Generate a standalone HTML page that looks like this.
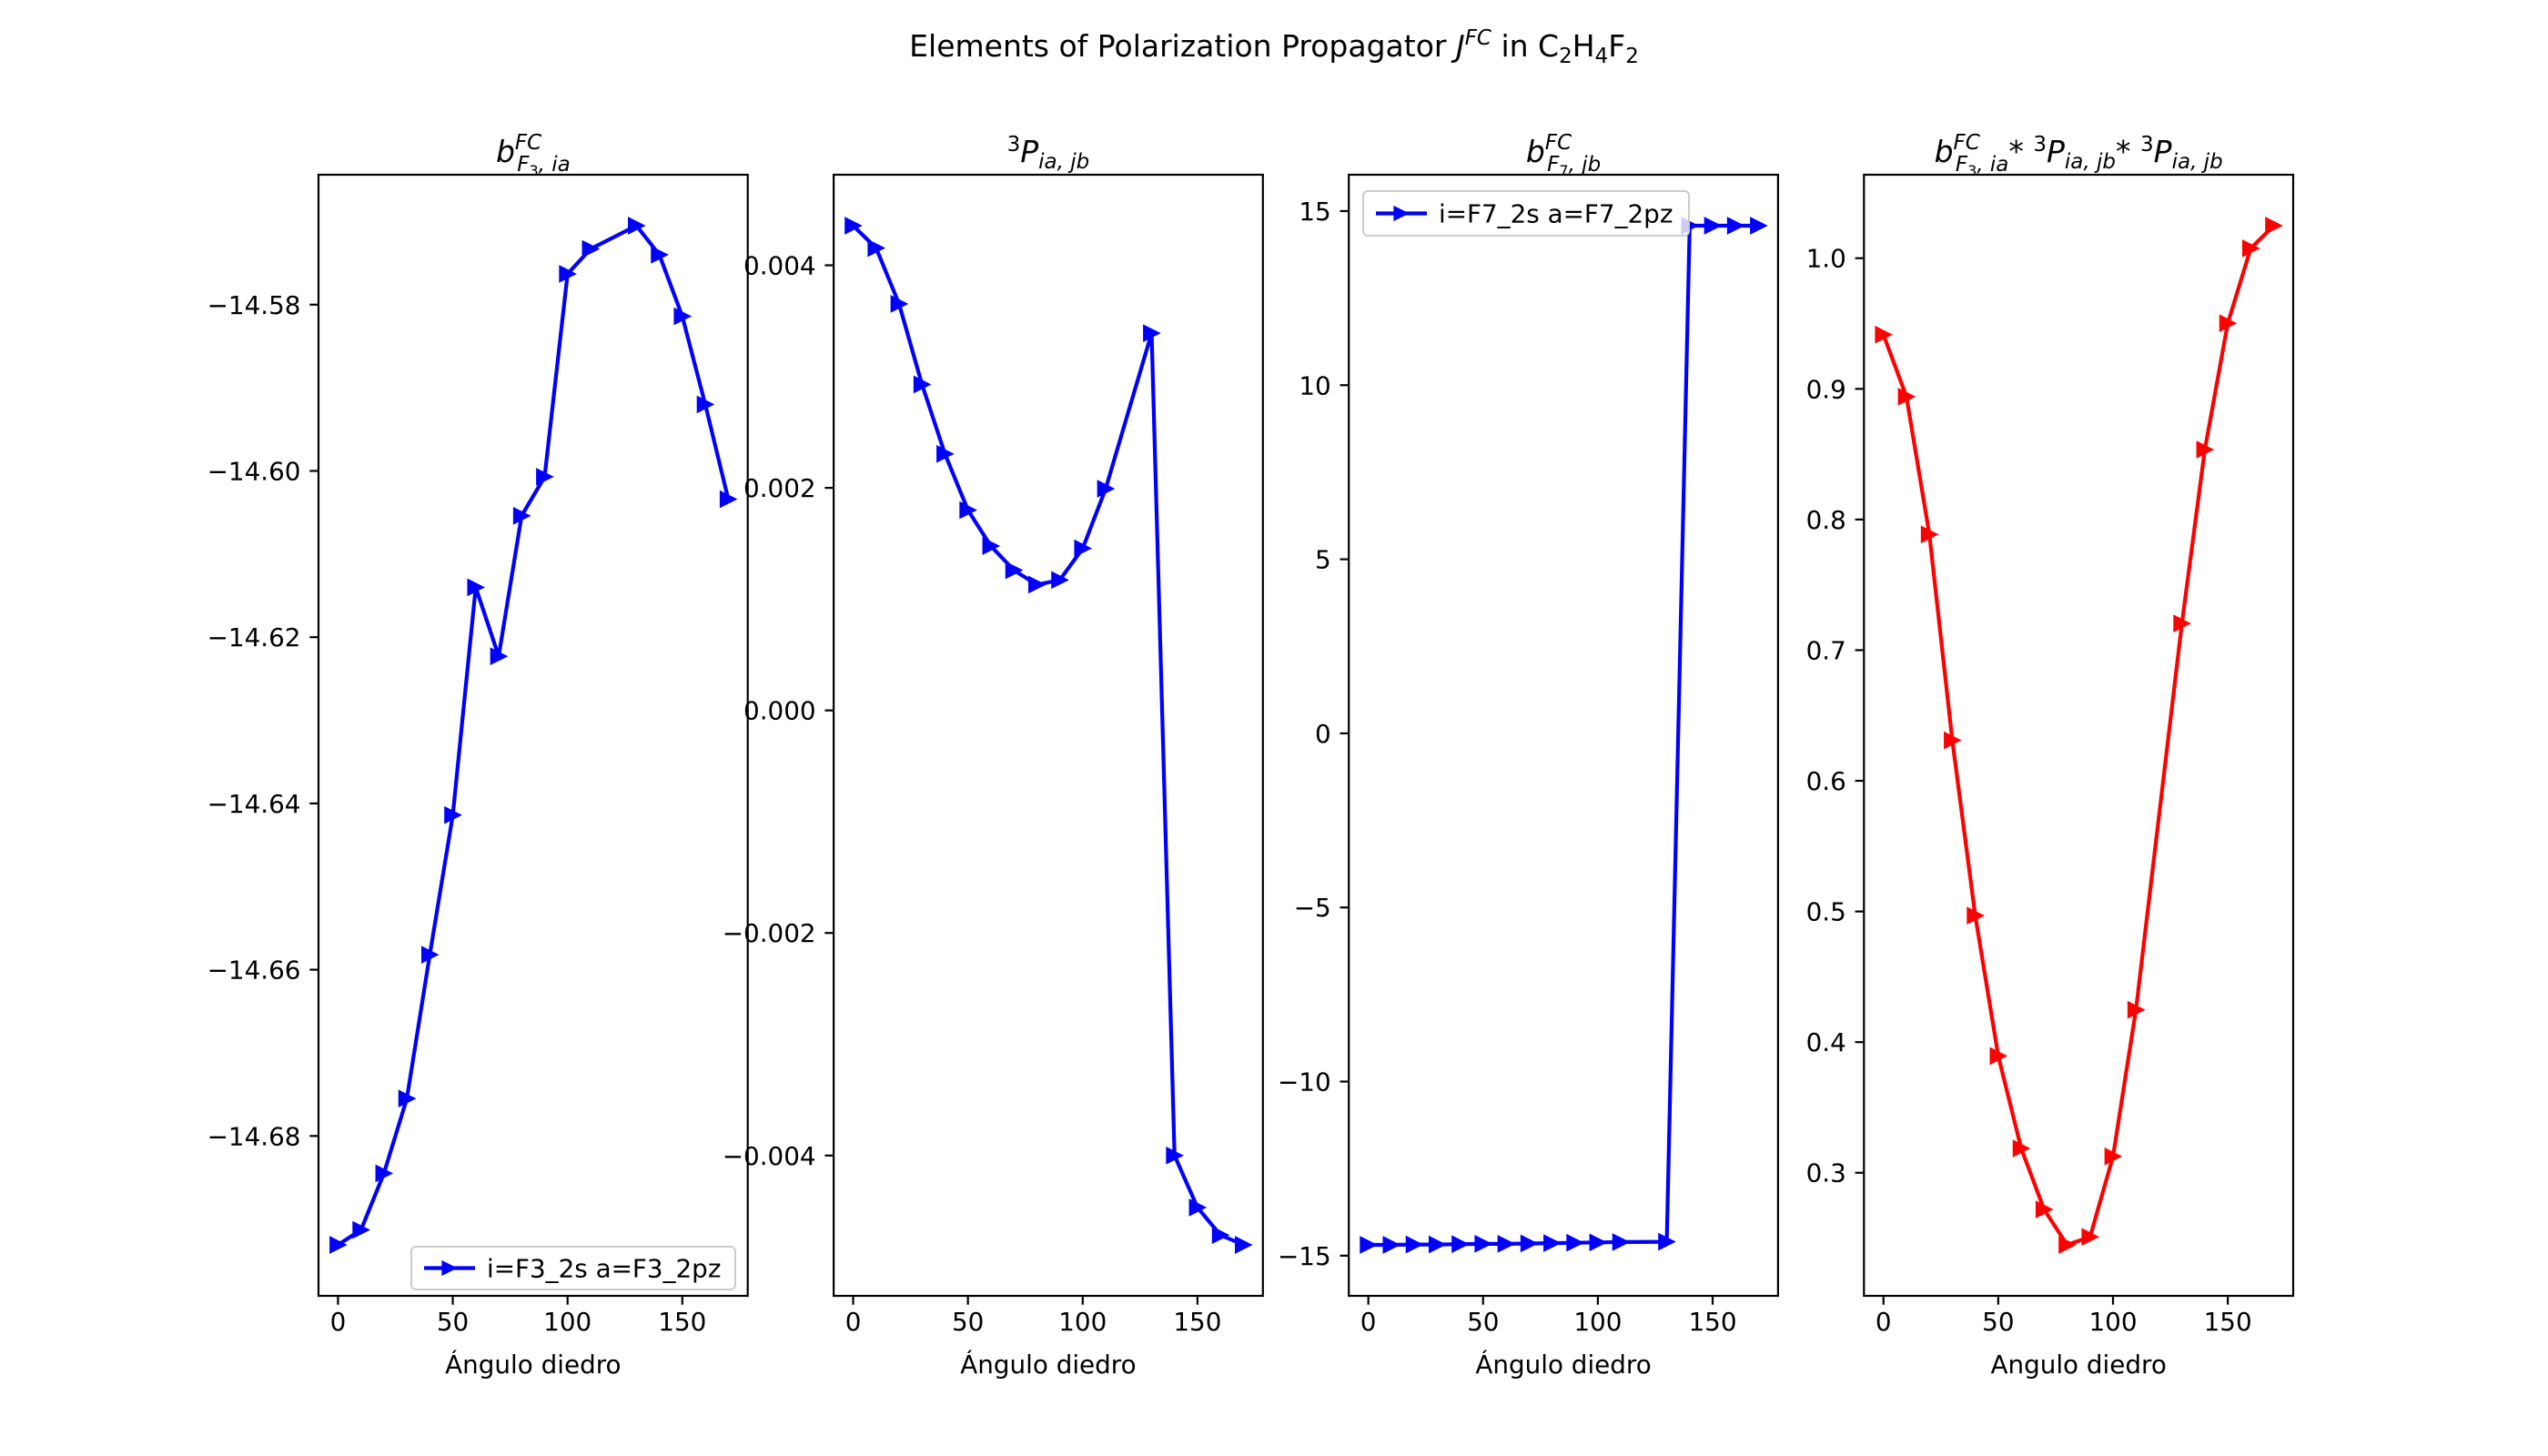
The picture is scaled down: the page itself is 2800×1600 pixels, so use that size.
<!DOCTYPE html>
<html><head><meta charset="utf-8">
<style>
html,body{margin:0;padding:0;background:#fff;}
svg{display:block;font-family:"DejaVu Sans","Liberation Sans",sans-serif;}
</style></head>
<body>
<svg id="fig" width="2800" height="1600" viewBox="0 0 2800 1600" xmlns="http://www.w3.org/2000/svg">
<rect width="2800" height="1600" fill="#fff"/>
<text x="1400" y="62" font-size="33" text-anchor="middle">Elements of Polarization Propagator <tspan font-style="italic">J</tspan><tspan font-style="italic" font-size="23" dy="-13">FC</tspan><tspan dy="13"> in C</tspan><tspan font-size="23" dy="7">2</tspan><tspan dy="-7">H</tspan><tspan font-size="23" dy="7">4</tspan><tspan dy="-7">F</tspan><tspan font-size="23" dy="7">2</tspan></text>
</svg>
<script>
const angles = [0,10,20,30,40,50,60,70,80,90,100,110,130,140,150,160,170];
const bF3 = [-14.6931,-14.6913,-14.6845,-14.6755,-14.6582,-14.6414,-14.6140,-14.6223,-14.6054,-14.6007,-14.5763,-14.5733,-14.5705,-14.5740,-14.5814,-14.5920,-14.6034];
const P3 = [0.004356,0.004155,0.003653,0.002929,0.002305,0.0018,0.001477,0.00126,0.00113,0.001172,0.001456,0.001992,0.00339,-0.0040,-0.004467,-0.004715,-0.004803];
const bF7 = [-14.69,-14.69,-14.68,-14.68,-14.67,-14.66,-14.66,-14.65,-14.64,-14.63,-14.62,-14.61,-14.60,14.58,14.58,14.58,14.58];
const prod = [0.9415,0.894,0.7886,0.631,0.4968,0.3894,0.3186,0.2719,0.2448,0.2509,0.3125,0.4247,0.7204,0.8535,0.9502,1.0075,1.0249];
const xTicks = [0,50,100,150];
const yTicks1 = [-14.68,-14.66,-14.64,-14.62,-14.60,-14.58];
const yTicks2 = [-0.004,-0.002,0.000,0.002,0.004];
const yTicks3 = [-15,-10,-5,0,5,10,15];
const yTicks4 = [0.3,0.4,0.5,0.6,0.7,0.8,0.9,1.0];
const yLabels1 = ['−14.68','−14.66','−14.64','−14.62','−14.60','−14.58'];
const yLabels2 = ['−0.004','−0.002','0.000','0.002','0.004'];
const yLabels3 = ['−15','−10','−5','0','5','10','15'];
const yLabels4 = ['0.3','0.4','0.5','0.6','0.7','0.8','0.9','1.0'];

const NS='http://www.w3.org/2000/svg';
const svg=document.getElementById('fig');
function mk(tag,attrs,parent){const e=document.createElementNS(NS,tag);for(const k in attrs)e.setAttribute(k,attrs[k]);(parent||svg).appendChild(e);return e;}
const TOP=192,BOT=1424,W=471.7;
const lefts=[350,916.1,1482.2,2048.3];

function panel(i,ys,yt,yl,color,titleHTML,xlabel,legend){
  const L=lefts[i];
  const xmin=-8.5,xmax=178.5;
  let mn=Math.min(...ys),mx=Math.max(...ys),m=(mx-mn)*0.05;
  const ymin=mn-m,ymax=mx+m;
  const sx=v=>L+(v-xmin)/(xmax-xmin)*W;
  const sy=v=>BOT-(v-ymin)/(ymax-ymin)*(BOT-TOP);
  const g=mk('g',{});
  
  
  let d=ys.map((v,k)=>(k?'L':'M')+sx(angles[k]).toFixed(1)+' '+sy(v).toFixed(1)).join(' ');
  const line=mk('path',{d:d,fill:'none',stroke:color,'stroke-width':4.2,'stroke-linejoin':'round'},g);
  
  
  ys.forEach((v,k)=>{
    const x=sx(angles[k]),y=sy(v),h=8.6;
    const p=mk('path',{d:`M${x+h} ${y} L${x-h} ${y-h} L${x-h} ${y+h} Z`,fill:color,stroke:color,'stroke-width':1.5},g);
    
    
  });
  const fr=mk('rect',{x:L,y:TOP,width:W,height:BOT-TOP,fill:'none',stroke:'#000','stroke-width':2.2},g);
  
  
  xTicks.forEach(t=>{
    const x=sx(t);
    mk('line',{x1:x,x2:x,y1:BOT,y2:BOT+9.7,stroke:'#000','stroke-width':2.2},g);
    const tx=mk('text',{x:x,y:BOT+38,'font-size':27.8,'text-anchor':'middle'},g);
    tx.textContent=t;
    
    
  });
  yt.forEach((t,k)=>{
    const y=sy(t);
    mk('line',{x1:L-9.7,x2:L,y1:y,y2:y,stroke:'#000','stroke-width':2.2},g);
    const tx=mk('text',{x:L-19.5,y:y+10,'font-size':27.8,'text-anchor':'end'},g);
    tx.textContent=yl[k];
    
    
  });
  const xl=mk('text',{x:L+W/2,y:1525-16,'font-size':27.8,'text-anchor':'middle'},g);
  xl.textContent=xlabel;
  
  
  const ti=mk('text',{x:L+W/2,y:TOP-14,'font-size':33,'text-anchor':'middle'},g);
  ti.innerHTML=titleHTML;
  
  
  if(legend){
    const [bx,by,bw,bh,txt]=legend;
    const lg=mk('g',{},g);
    
    
    mk('rect',{x:bx,y:by,width:bw,height:bh,rx:5,fill:'#fff','fill-opacity':0.8,stroke:'#ccc','stroke-width':2},lg);
    const cy=by+bh/2;
    mk('line',{x1:bx+14,x2:bx+70,y1:cy,y2:cy,stroke:color,'stroke-width':4.2},lg);
    const mx2=bx+42;
    mk('path',{d:`M${mx2+8.6} ${cy} L${mx2-8.6} ${cy-8.6} L${mx2-8.6} ${cy+8.6} Z`,fill:color},lg);
    const lt=mk('text',{x:bx+83,y:cy+10,'font-size':27.8},lg);
    lt.textContent=txt;
    
    
  }
}
panel(0,bF3,yTicks1,yLabels1,'#0000ff',
 '<tspan font-style="italic">b</tspan><tspan font-style="italic" font-size="23" dy="-14">FC</tspan><tspan font-style="italic" font-size="23" dx="-27" dy="24">F</tspan><tspan font-size="16" dy="5">3</tspan><tspan font-style="italic" font-size="23" dy="-5">, ia</tspan>',
 'Ángulo diedro',[452,1370,356,47,'i=F3_2s a=F3_2pz']);
panel(1,P3,yTicks2,yLabels2,'#0000ff',
 '<tspan font-size="23" dy="-12">3</tspan><tspan font-style="italic" dy="12">P</tspan><tspan font-style="italic" font-size="23" dy="7">ia, jb</tspan>',
 'Ángulo diedro',null);
panel(2,bF7,yTicks3,yLabels3,'#0000ff',
 '<tspan font-style="italic">b</tspan><tspan font-style="italic" font-size="23" dy="-14">FC</tspan><tspan font-style="italic" font-size="23" dx="-27" dy="24">F</tspan><tspan font-size="16" dy="5">7</tspan><tspan font-style="italic" font-size="23" dy="-5">, jb</tspan>',
 'Ángulo diedro',[1498,210,358,49,'i=F7_2s a=F7_2pz']);
panel(3,prod,yTicks4,yLabels4,'#ff0000',
 '<tspan font-style="italic">b</tspan><tspan font-style="italic" font-size="23" dy="-14">FC</tspan><tspan font-style="italic" font-size="23" dx="-27" dy="24">F</tspan><tspan font-size="16" dy="5">3</tspan><tspan font-style="italic" font-size="23" dy="-5">, ia</tspan><tspan dy="-10">* </tspan><tspan font-size="23" dy="-12">3</tspan><tspan font-style="italic" dy="12">P</tspan><tspan font-style="italic" font-size="23" dy="7">ia, jb</tspan><tspan dy="-7">* </tspan><tspan font-size="23" dy="-12">3</tspan><tspan font-style="italic" dy="12">P</tspan><tspan font-style="italic" font-size="23" dy="7">ia, jb</tspan>',
 'Angulo diedro',null);
</script>
</body></html>
